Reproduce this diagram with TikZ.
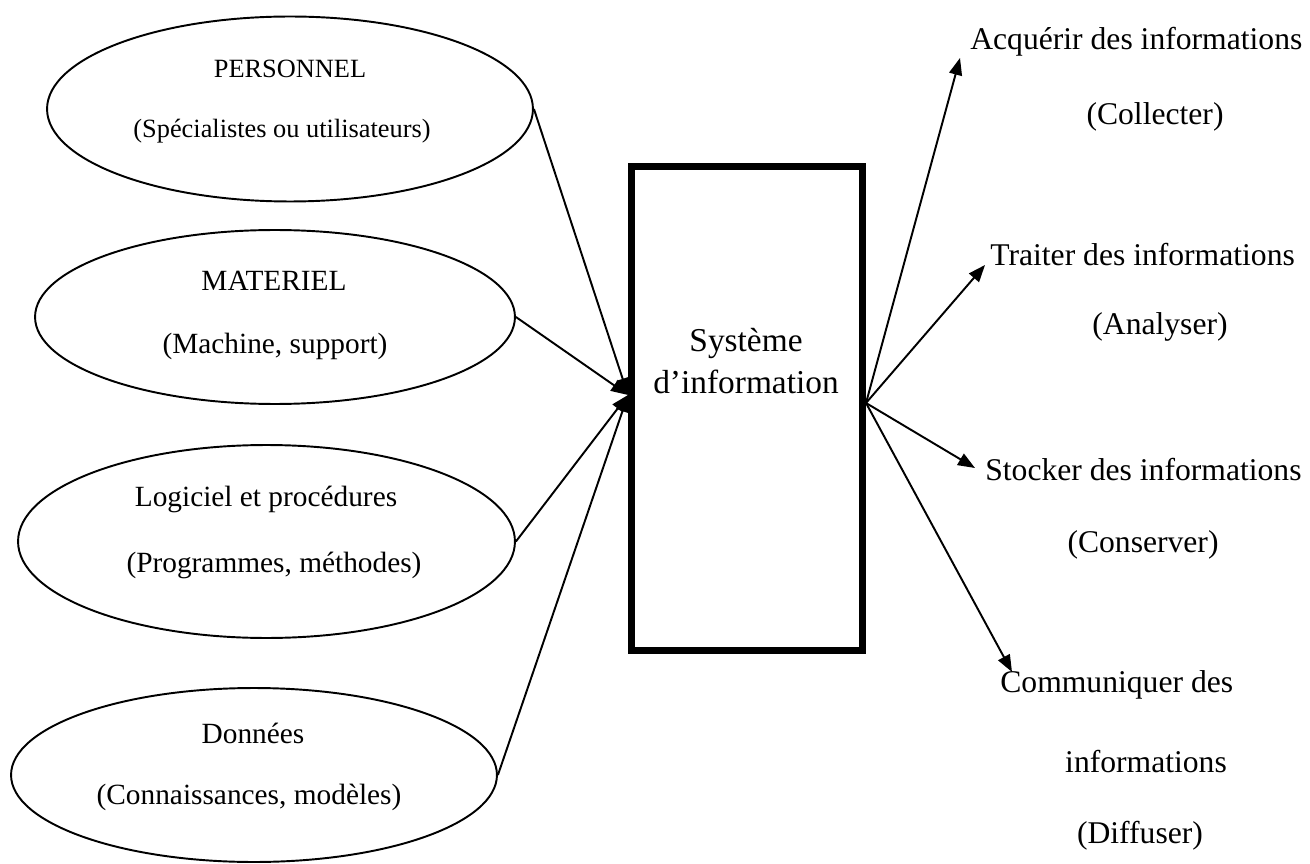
\documentclass[tikz,border=0pt]{standalone}
\usepackage{fontspec}
\setmainfont{Liberation Serif}
\usetikzlibrary{shapes.geometric,arrows.meta}

\begin{document}
\begin{tikzpicture}[x=0.02cm,y=0.02cm]
\tikzstyle{every node}+=[inner sep=0pt]
\tikzstyle{bubble}=[draw, ellipse, line width=1.1pt]
\tikzstyle{tiny}=[font=\fontsize{15}{18}\selectfont]
\tikzstyle{small}=[font=\fontsize{16.7}{20}\selectfont]
\tikzstyle{big}=[font=\fontsize{18}{23}\selectfont]
\tikzstyle{link}=[line width=1.1pt, -{Triangle[length=0.34cm,width=0.26cm]}]
\useasboundingbox (0,0) rectangle (1310,-864);
% resources
\node [bubble, minimum width=9.72cm, minimum height=3.7cm] (e1) at (290,-109) {};
\node [bubble, minimum width=9.6cm, minimum height=3.48cm] (e2) at (275,-317) {};
\node [bubble, minimum width=9.94cm, minimum height=3.86cm] (e3) at (266.5,-541.5) {};
\node [bubble, minimum width=9.72cm, minimum height=3.48cm] (e4) at (254,-775) {};
\node [tiny] (pers) at (290,-69) {PERSONNEL};
\node [tiny] (perssub) at (282,-131) {(Spécialistes ou utilisateurs)};
\node [small] (mat) at (274,-281) {MATERIEL};
\node [small] (matsub) at (275,-346) {(Machine, support)};
\node [small] (log) at (266,-499) {Logiciel et procédures};
\node [small] (logsub) at (274,-565) {(Programmes, méthodes)};
\node [small] (don) at (253,-733) {Données};
\node [small] (donsub) at (249,-797) {(Connaissances, modèles)};
% system
\node [draw, line width=4pt, minimum width=4.62cm, minimum height=9.68cm] (sys) at (747,-408.5) {};
\node [big, font=\fontsize{19}{23.5}\selectfont, align=center] (systext) at (746,-361) {Système\\d’information};
\coordinate (sysin) at (628,-395);
\coordinate (sysout) at (866,-403);
\draw [link] (e1.east) -- (sysin);
\draw [link] (e2.east) -- (sysin);
\draw [link] (e3.east) -- (sysin);
\draw [link] (e4.east) -- (sysin);
% functions
\node [big, anchor=west] (acq) at (970,-42) {Acquérir des informations};
\node [big] (acqsub) at (1155,-117) {(Collecter)};
\node [big, anchor=west] (tra) at (990,-255) {Traiter des informations};
\node [big] (trasub) at (1160,-327) {(Analyser)};
\node [big, anchor=west] (sto) at (985,-470) {Stocker des informations};
\node [big] (stosub) at (1143,-545) {(Conserver)};
\node [big, anchor=west] (com) at (1000,-685) {Communiquer des};
\node [big] (com2) at (1146,-762) {informations};
\node [big] (comsub) at (1140,-836) {(Diffuser)};
\coordinate (acqtip) at (960,-58);
\coordinate (tratip) at (985,-265);
\coordinate (stotip) at (975,-468);
\coordinate (comtip) at (1012,-672);
\draw [link] (sysout) -- (acqtip);
\draw [link] (sysout) -- (tratip);
\draw [link] (sysout) -- (stotip);
\draw [link] (sysout) -- (comtip);
\end{tikzpicture}
\end{document}
